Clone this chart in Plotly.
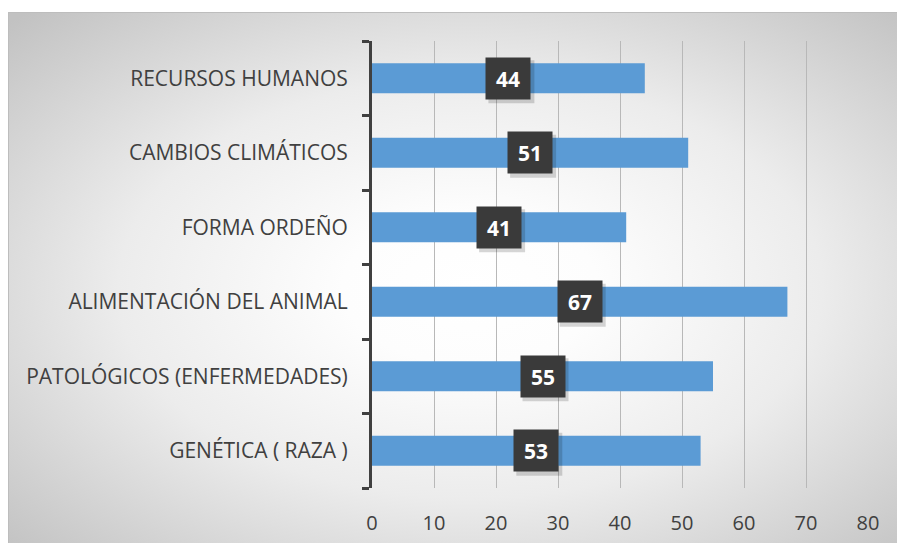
import base64
import plotly.graph_objects as go

categories = ["GENÉTICA ( RAZA )", "PATOLÓGICOS (ENFERMEDADES)", "ALIMENTACIÓN DEL ANIMAL",
              "FORMA ORDEÑO", "CAMBIOS CLIMÁTICOS", "RECURSOS HUMANOS"]
values = [53, 55, 67, 41, 51, 44]
x_ticks = [0, 10, 20, 30, 40, 50, 60, 70, 80]

W, H = 897, 543
L, R, T, B = 372, 29, 41, 55
pw, ph = W - L - R, H - T - B

def px_to_paper_x(px):
    return (px - L) / pw

def px_to_paper_y(py):
    return 1 - (py - T) / ph

svg = ('<svg xmlns="http://www.w3.org/2000/svg" width="900" height="540" viewBox="0 0 900 540" preserveAspectRatio="none">'
       '<defs><radialGradient id="g" cx="52%" cy="52%" r="72%">'
       '<stop offset="0" stop-color="#ffffff"/><stop offset="0.2" stop-color="#fdfdfd"/>'
       '<stop offset="0.55" stop-color="#ececec"/>'
       '<stop offset="1" stop-color="#c2c2c2"/></radialGradient></defs>'
       '<rect x="0" y="0" width="900" height="540" fill="url(#g)"/></svg>')
src = "data:image/svg+xml;base64," + base64.b64encode(svg.encode()).decode()

fig = go.Figure()
fig.add_trace(go.Bar(
    y=categories, x=values, orientation="h",
    marker=dict(color="#5B9BD5", line=dict(width=0)),
    hoverinfo="skip",
))

# label boxes with soft shadow
for c, v in zip(categories, values):
    fig.add_shape(type="rect", xref="x", yref="y", xsizemode="pixel", ysizemode="pixel",
                  xanchor=v / 2, yanchor=c, x0=-20, x1=26, y0=-25, y1=18,
                  fillcolor="rgba(0,0,0,0.16)", line=dict(width=0), layer="above")
    fig.add_annotation(x=v / 2, y=c, xref="x", yref="y", text=f"<b>{v}</b>", showarrow=False,
                       font=dict(family="Open Sans", size=21, color="white"),
                       bgcolor="#3a3a3a", width=42, height=39, borderpad=1)

fig.add_layout_image(dict(source=src, xref="paper", yref="paper",
                          x=px_to_paper_x(8), y=px_to_paper_y(12),
                          sizex=(W - 8) / pw, sizey=(H - 12) / ph,
                          xanchor="left", yanchor="top", sizing="stretch", layer="below"))

fig.add_shape(type="rect", xref="paper", yref="paper",
              x0=px_to_paper_x(8.5), x1=px_to_paper_x(W + 5),
              y0=px_to_paper_y(H + 5), y1=px_to_paper_y(12.5),
              line=dict(color="#bdbdbd", width=1), layer="below")

fig.update_layout(
    width=W, height=H,
    margin=dict(l=L, r=R, t=T, b=B, autoexpand=False),
    paper_bgcolor="white", plot_bgcolor="rgba(0,0,0,0)",
    showlegend=False, bargap=0.6,
    font=dict(family="Open Sans", color="#404040"),
    xaxis=dict(range=[0, 80], tickvals=x_ticks, showgrid=True, gridcolor="#b8b8b8", gridwidth=1,
               zeroline=False, showline=False, ticks="", tickfont=dict(size=20, color="#404040"),
               ticklabelstandoff=21, fixedrange=True, automargin=False),
    yaxis=dict(categoryorder="array", categoryarray=categories, range=[-0.5, 5.5],
               showline=True, linecolor="#404040", linewidth=3, ticks="outside", tickson="boundaries",
               ticklen=7, tickwidth=3, tickcolor="#404040", tickfont=dict(size=21, color="#404040"),
               ticklabelstandoff=17, showgrid=False, fixedrange=True, automargin=False),
)

fig.write_html("out.html", config={"displayModeBar": False},
               post_script="document.body.style.margin='0';document.body.style.overflow='hidden';")
